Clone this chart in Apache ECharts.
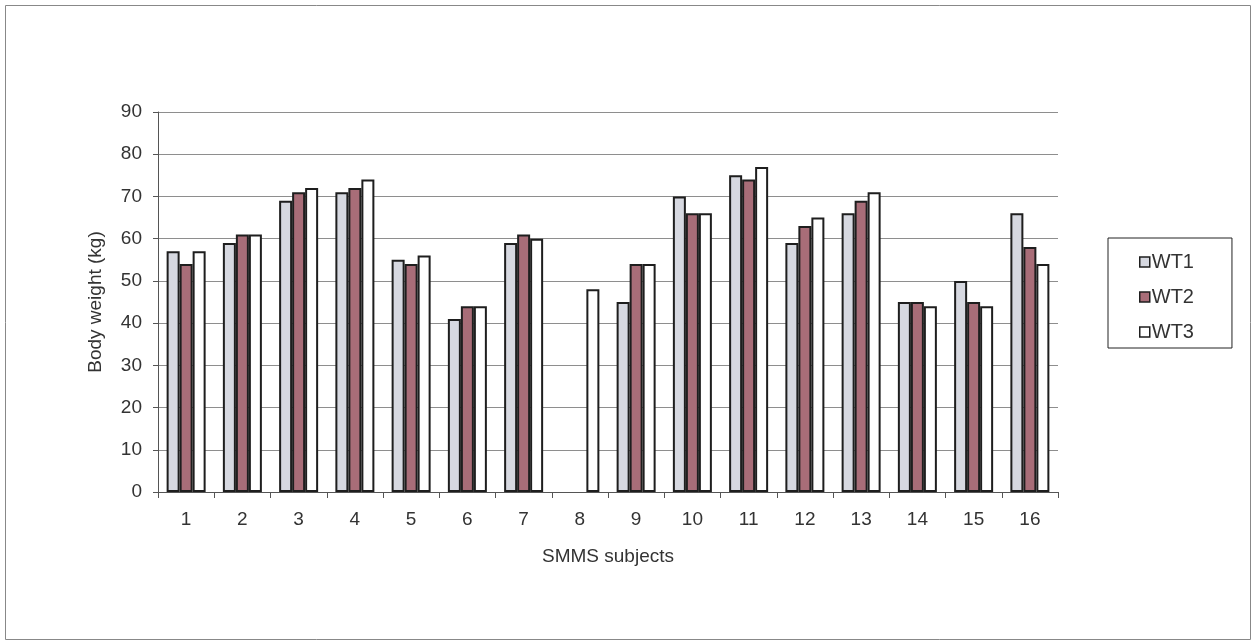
<!DOCTYPE html>
<html>
<head>
<meta charset="utf-8">
<script src="https://cdn.jsdelivr.net/npm/echarts@6/dist/echarts.min.js"></script>
<style>html,body{margin:0;padding:0;background:#fff}#c{width:1257px;height:642px}</style>
</head>
<body>
<div id="c"></div>
<script>
const categories = ['1','2','3','4','5','6','7','8','9','10','11','12','13','14','15','16'];
const wt1 = [57, 59, 69, 71, 55, 41, 59, null, 45, 70, 75, 59, 66, 45, 50, 66];
const wt2 = [54, 61, 71, 72, 54, 44, 61, null, 54, 66, 74, 63, 69, 45, 45, 58];
const wt3 = [57, 61, 72, 74, 56, 44, 60, 48, 54, 66, 77, 65, 71, 44, 44, 54];
const seriesNames = ['WT1', 'WT2', 'WT3'];

const font = 'Liberation Sans, Arial, sans-serif';
const colors = ['#d6d8e0', '#a86d78', '#ffffff'];
const chart = echarts.init(document.getElementById('c'));
const mk = (name, data, i) => ({
  name, type: 'bar', data, barWidth: 13, barGap: '0%',
  itemStyle: { color: colors[i], borderColor: '#1e1e1e', borderWidth: 2 },
  emphasis: { disabled: true }
});
chart.setOption({
  animation: false,
  backgroundColor: '#fff',
  graphic: [{ type: 'rect', shape: { x: 5.5, y: 5.5, width: 1245, height: 634 }, style: { fill: 'none', stroke: '#888', lineWidth: 1 } }],
  grid: { left: 158, right: 199, top: 112, bottom: 150 },
  legend: {
    orient: 'vertical', left: 1108, top: 238,
    data: seriesNames,
    borderColor: '#222', borderWidth: 1, padding: [14, 38, 6, 31],
    itemWidth: 10, itemHeight: 10, itemGap: 15,
    icon: 'rect',
    itemStyle: { borderColor: '#1e1e1e', borderWidth: 1.5 },
    textStyle: { fontFamily: font, fontSize: 20, color: '#333', padding: [0, 0, 0, -3] }
  },
  xAxis: {
    type: 'category', data: categories,
    name: 'SMMS subjects', nameLocation: 'middle', nameGap: 55,
    nameTextStyle: { fontFamily: font, fontSize: 19, color: '#333' },
    axisLine: { lineStyle: { color: '#555', width: 1 } },
    axisTick: { show: true, length: 6, lineStyle: { color: '#555' } },
    axisLabel: { fontFamily: font, fontSize: 19, color: '#333', margin: 18 },
    splitLine: { show: false }
  },
  yAxis: {
    type: 'value', min: 0, max: 90, interval: 10,
    name: 'Body weight (kg)', nameLocation: 'middle', nameGap: 53,
    nameTextStyle: { fontFamily: font, fontSize: 19, color: '#333' },
    axisLine: { show: true, lineStyle: { color: '#555', width: 1 } },
    axisTick: { show: true, length: 5, lineStyle: { color: '#555' } },
    axisLabel: { fontFamily: font, fontSize: 19, color: '#333', margin: 16 },
    splitLine: { show: true, lineStyle: { color: '#8e8e8e', width: 1 } }
  },
  series: [mk('WT1', wt1, 0), mk('WT2', wt2, 1), mk('WT3', wt3, 2)]
});
</script>
</body>
</html>
